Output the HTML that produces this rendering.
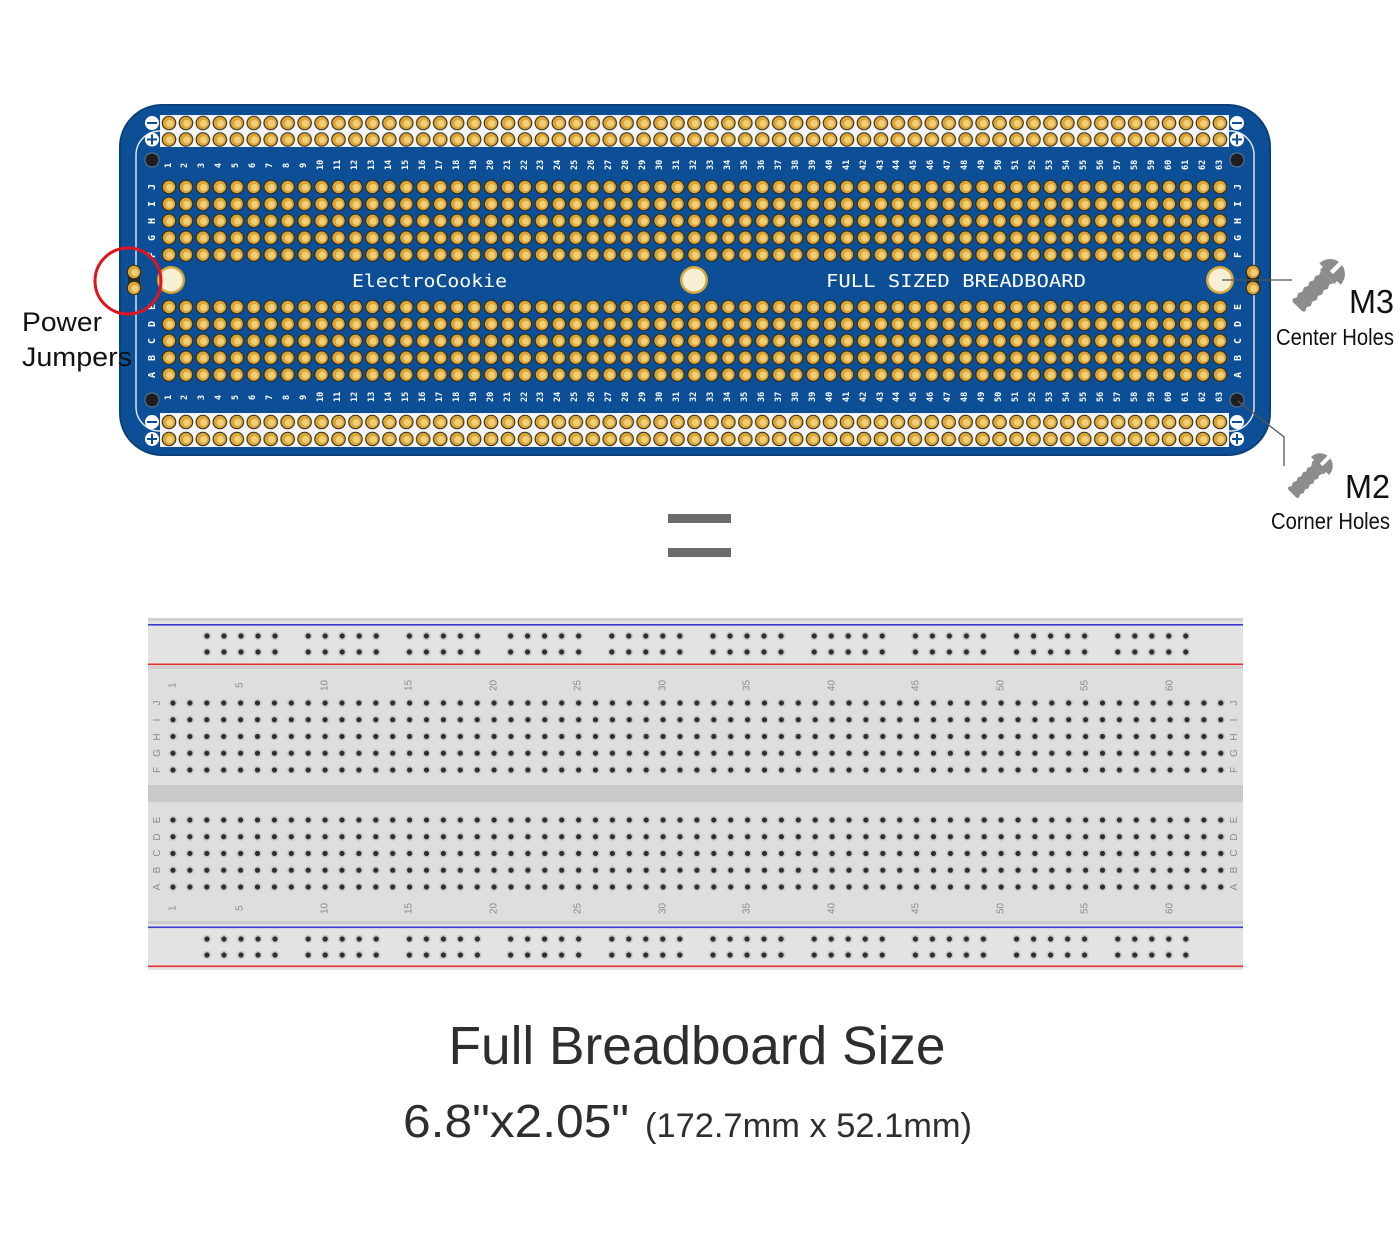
<!DOCTYPE html>
<html><head><meta charset="utf-8">
<style>
html,body{margin:0;padding:0;background:#fff;}
#wrap{position:relative;width:1400px;height:1260px;overflow:hidden;font-family:"Liberation Sans",sans-serif;}
svg{position:absolute;left:0;top:0;}
.nr{position:absolute;display:flex;height:26px;}
.nr span{flex:1;display:flex;align-items:center;justify-content:center;writing-mode:vertical-rl;transform:rotate(180deg);font-size:9px;line-height:1;}
.pcb span{color:#fff;font-weight:bold;font-family:"DejaVu Sans Mono","Liberation Mono",monospace;font-size:8.5px;}
.bb span{color:#8a8a8a;font-size:10px;}
</style></head><body><div id="wrap">
<svg width="1400" height="1260" viewBox="0 0 1400 1260">
<defs>
<g id="p"><circle r="7.3" fill="#2b2a1c"/><circle r="6.2" fill="#dca534"/><circle cx="0.8" cy="0.5" r="3.6" fill="#f1cf78"/></g>
<pattern id="padA" patternUnits="userSpaceOnUse" x="160.525" y="178.55" width="16.95" height="16.9"><use href="#p" x="8.475" y="8.45"/></pattern>
<pattern id="padB" patternUnits="userSpaceOnUse" x="160.525" y="298.55" width="16.95" height="16.9"><use href="#p" x="8.475" y="8.45"/></pattern>
<pattern id="railT" patternUnits="userSpaceOnUse" x="160.525" y="114.75" width="16.95" height="16.5"><use href="#p" x="8.475" y="8.25"/></pattern>
<pattern id="railB" patternUnits="userSpaceOnUse" x="160.525" y="413.5" width="16.95" height="17"><use href="#p" x="8.475" y="8.5"/></pattern>
<g id="h"><circle r="4.2" fill="#c9c9c9"/><circle r="2.6" fill="#2e2e2e"/></g>
<pattern id="bbA" patternUnits="userSpaceOnUse" x="164.55" y="694.6" width="16.9" height="16.75"><use href="#h" x="8.45" y="8.4"/></pattern>
<pattern id="bbB" patternUnits="userSpaceOnUse" x="164.55" y="811.6" width="16.9" height="16.75"><use href="#h" x="8.45" y="8.4"/></pattern>
<g id="grp"><use href="#h" x="8.5" y="7.5"/><use href="#h" x="25.5" y="7.5"/><use href="#h" x="42.5" y="7.5"/><use href="#h" x="59.5" y="7.5"/><use href="#h" x="76.5" y="7.5"/><use href="#h" x="8.5" y="23.5"/><use href="#h" x="25.5" y="23.5"/><use href="#h" x="42.5" y="23.5"/><use href="#h" x="59.5" y="23.5"/><use href="#h" x="76.5" y="23.5"/></g>
<pattern id="rlT" patternUnits="userSpaceOnUse" x="198.5" y="628.5" width="101.2" height="32"><use href="#grp"/></pattern>
<pattern id="rlB" patternUnits="userSpaceOnUse" x="198.5" y="931.5" width="101.2" height="32"><use href="#grp"/></pattern>
<g id="screw" fill="#8c8c8c">
<path d="M0,-15 A15,15 0 0,1 0,15 Z"/>
<rect x="-4" y="-10" width="5" height="20"/>
<polygon points="-4,-9 -8,-7 -12,-9 -16,-7 -20,-9 -24,-7 -28,-9 -32,-7 -36,-9 -40,-7 -44,-9 -46,-7 -46,7 -44,9 -40,7 -36,9 -32,7 -28,9 -24,7 -20,9 -16,7 -12,9 -8,7 -4,9"/>
<rect x="2" y="-2.2" width="14" height="4.4" fill="#fff"/>
</g>
</defs>

<!-- PCB -->
<rect x="120" y="105" width="1150" height="350" rx="42" fill="#0d4f96"/>
<rect x="136" y="131" width="1118" height="300" rx="24" fill="none" stroke="#e8eef6" stroke-width="1.4"/>
<rect x="120" y="105" width="1150" height="350" rx="42" fill="none" stroke="#0a3f7a" stroke-width="2"/>
<rect x="160" y="115" width="1069" height="32" fill="#f4f4f4"/>
<rect x="160" y="413" width="1069" height="34" fill="#f4f4f4"/>
<rect x="160.5" y="114.75" width="1067.9" height="33" fill="url(#railT)"/>
<rect x="160.5" y="413.5" width="1067.9" height="34" fill="url(#railB)"/>
<rect x="160.5" y="178.55" width="1067.9" height="84.5" fill="url(#padA)"/>
<rect x="160.5" y="298.55" width="1067.9" height="84.5" fill="url(#padB)"/>
<!-- rail symbols -->
<g fill="#fff"><circle cx="152" cy="123" r="7"/><circle cx="152" cy="139.5" r="7"/><circle cx="1237" cy="123" r="7"/><circle cx="1237" cy="139.5" r="7"/>
<circle cx="152" cy="422" r="7"/><circle cx="152" cy="439" r="7"/><circle cx="1237" cy="422" r="7"/><circle cx="1237" cy="439" r="7"/></g>
<g stroke="#0d4f96" stroke-width="2"><path d="M147,123h10M1232,123h10M147,139.5h10M152,134.5v10M1232,139.5h10M1237,134.5v10M147,422h10M1232,422h10M147,439h10M152,434v10M1232,439h10M1237,434v10"/></g>
<!-- corner holes -->
<g fill="#1e1e22" stroke="#6a7a8a" stroke-width="1"><circle cx="152" cy="160" r="7"/><circle cx="1237" cy="160" r="7"/><circle cx="152" cy="400" r="7"/><circle cx="1237" cy="400" r="7"/></g>
<!-- center holes -->
<g><circle cx="171" cy="280" r="14" fill="#d9a73a"/><circle cx="171" cy="280" r="11.5" fill="#f7efd4"/>
<circle cx="694" cy="280" r="14" fill="#d9a73a"/><circle cx="694" cy="280" r="11.5" fill="#f7efd4"/>
<circle cx="1220" cy="280" r="14" fill="#d9a73a"/><circle cx="1220" cy="280" r="11.5" fill="#f7efd4"/></g>
<!-- jumpers -->
<g><rect x="128" y="266" width="12" height="26" rx="6" fill="#2b2a1c"/><use href="#p" x="134" y="272"/><use href="#p" x="134" y="288"/>
<rect x="1247" y="266" width="12" height="26" rx="6" fill="#2b2a1c"/><use href="#p" x="1253" y="272"/><use href="#p" x="1253" y="288"/></g>
<text x="352" y="287" fill="#fff" font-family="DejaVu Sans Mono,Liberation Mono,monospace" font-size="18" textLength="155" lengthAdjust="spacingAndGlyphs">ElectroCookie</text>
<text x="826" y="287" fill="#fff" font-family="DejaVu Sans Mono,Liberation Mono,monospace" font-size="18" textLength="260" lengthAdjust="spacingAndGlyphs">FULL SIZED BREADBOARD</text>
<!-- PCB letters -->
<g fill="#fff" font-family="DejaVu Sans Mono,monospace" font-size="10" font-weight="bold" text-anchor="middle">
<text transform="translate(155,187) rotate(-90)">J</text><text transform="translate(155,204) rotate(-90)">I</text><text transform="translate(155,221) rotate(-90)">H</text><text transform="translate(155,238) rotate(-90)">G</text><text transform="translate(155,255) rotate(-90)">F</text>
<text transform="translate(155,307) rotate(-90)">E</text><text transform="translate(155,324) rotate(-90)">D</text><text transform="translate(155,341) rotate(-90)">C</text><text transform="translate(155,358) rotate(-90)">B</text><text transform="translate(155,375) rotate(-90)">A</text>
<text transform="translate(1241,187) rotate(-90)">J</text><text transform="translate(1241,204) rotate(-90)">I</text><text transform="translate(1241,221) rotate(-90)">H</text><text transform="translate(1241,238) rotate(-90)">G</text><text transform="translate(1241,255) rotate(-90)">F</text>
<text transform="translate(1241,307) rotate(-90)">E</text><text transform="translate(1241,324) rotate(-90)">D</text><text transform="translate(1241,341) rotate(-90)">C</text><text transform="translate(1241,358) rotate(-90)">B</text><text transform="translate(1241,375) rotate(-90)">A</text>
</g>
<!-- red circle -->
<circle cx="128" cy="281" r="33" fill="none" stroke="#e0141e" stroke-width="3"/>
<!-- leader lines -->
<path d="M1222,280H1292" stroke="#555" stroke-width="1.3" fill="none"/>
<path d="M1238,401L1284,437V466" stroke="#555" stroke-width="1.3" fill="none"/>
<use href="#screw" transform="translate(1330,274) rotate(-45)"/>
<use href="#screw" transform="translate(1320,466) rotate(-45) scale(0.85)"/>
<g fill="#111">
<text x="1349" y="313" font-size="33" textLength="45" lengthAdjust="spacingAndGlyphs">M3</text>
<text x="1276" y="345" font-size="23" textLength="118" lengthAdjust="spacingAndGlyphs">Center Holes</text>
<text x="1345" y="498" font-size="33" textLength="45" lengthAdjust="spacingAndGlyphs">M2</text>
<text x="1271" y="529" font-size="23" textLength="119" lengthAdjust="spacingAndGlyphs">Corner Holes</text>
<text x="22" y="331" font-size="27" textLength="80" lengthAdjust="spacingAndGlyphs">Power</text>
<text x="22" y="366" font-size="27" textLength="110" lengthAdjust="spacingAndGlyphs">Jumpers</text>
</g>
<!-- equals -->
<rect x="668" y="514" width="63" height="9" fill="#6b6b6b"/><rect x="668" y="548" width="63" height="9" fill="#6b6b6b"/>

<!-- Breadboard -->
<rect x="148" y="618" width="1095" height="352" fill="#e3e3e3"/>
<rect x="148" y="618" width="1095" height="3" fill="#cfcfcf"/>
<rect x="148" y="666" width="1095" height="3" fill="#cdcdcd"/>
<rect x="148" y="669" width="1095" height="252" fill="#dedede"/>
<rect x="148" y="785" width="1095" height="17" fill="#cbc8c8"/>
<rect x="148" y="921" width="1095" height="3" fill="#c9c9c9"/>
<rect x="148" y="624" width="1095" height="1.6" fill="#3a3ad0"/>
<rect x="148" y="663.5" width="1095" height="1.6" fill="#e03030"/>
<rect x="148" y="926.5" width="1095" height="1.6" fill="#3a3ad0"/>
<rect x="148" y="965.5" width="1095" height="1.6" fill="#e03030"/>
<rect x="198.5" y="628.5" width="1000" height="32" fill="url(#rlT)"/>
<rect x="198.5" y="931.5" width="1000" height="32" fill="url(#rlB)"/>
<rect x="164.55" y="694.6" width="1064.7" height="83.75" fill="url(#bbA)"/>
<rect x="164.55" y="811.6" width="1064.7" height="83.75" fill="url(#bbB)"/>
<g fill="#8a8a8a" font-size="10" text-anchor="middle">
<text transform="translate(160,703) rotate(-90)">J</text><text transform="translate(160,720) rotate(-90)">I</text><text transform="translate(160,737) rotate(-90)">H</text><text transform="translate(160,753) rotate(-90)">G</text><text transform="translate(160,770) rotate(-90)">F</text>
<text transform="translate(160,820) rotate(-90)">E</text><text transform="translate(160,837) rotate(-90)">D</text><text transform="translate(160,853) rotate(-90)">C</text><text transform="translate(160,870) rotate(-90)">B</text><text transform="translate(160,887) rotate(-90)">A</text>
<text transform="translate(1237,703) rotate(-90)">J</text><text transform="translate(1237,720) rotate(-90)">I</text><text transform="translate(1237,737) rotate(-90)">H</text><text transform="translate(1237,753) rotate(-90)">G</text><text transform="translate(1237,770) rotate(-90)">F</text>
<text transform="translate(1237,820) rotate(-90)">E</text><text transform="translate(1237,837) rotate(-90)">D</text><text transform="translate(1237,853) rotate(-90)">C</text><text transform="translate(1237,870) rotate(-90)">B</text><text transform="translate(1237,887) rotate(-90)">A</text>
</g>
<!-- bottom titles -->
<text x="697" y="1064" font-size="54" fill="#2e2e2e" text-anchor="middle" textLength="497" lengthAdjust="spacingAndGlyphs">Full Breadboard Size</text>
<text x="403" y="1137" font-size="46" fill="#2e2e2e" textLength="226" lengthAdjust="spacingAndGlyphs">6.8"x2.05"</text>
<text x="645" y="1137" font-size="34" fill="#2e2e2e" textLength="327" lengthAdjust="spacingAndGlyphs">(172.7mm x 52.1mm)</text>
</svg>

<div class="nr pcb" style="left:160.5px;top:152px;width:1067.9px;"><span>1</span><span>2</span><span>3</span><span>4</span><span>5</span><span>6</span><span>7</span><span>8</span><span>9</span><span>10</span><span>11</span><span>12</span><span>13</span><span>14</span><span>15</span><span>16</span><span>17</span><span>18</span><span>19</span><span>20</span><span>21</span><span>22</span><span>23</span><span>24</span><span>25</span><span>26</span><span>27</span><span>28</span><span>29</span><span>30</span><span>31</span><span>32</span><span>33</span><span>34</span><span>35</span><span>36</span><span>37</span><span>38</span><span>39</span><span>40</span><span>41</span><span>42</span><span>43</span><span>44</span><span>45</span><span>46</span><span>47</span><span>48</span><span>49</span><span>50</span><span>51</span><span>52</span><span>53</span><span>54</span><span>55</span><span>56</span><span>57</span><span>58</span><span>59</span><span>60</span><span>61</span><span>62</span><span>63</span></div>
<div class="nr pcb" style="left:160.5px;top:384px;width:1067.9px;"><span>1</span><span>2</span><span>3</span><span>4</span><span>5</span><span>6</span><span>7</span><span>8</span><span>9</span><span>10</span><span>11</span><span>12</span><span>13</span><span>14</span><span>15</span><span>16</span><span>17</span><span>18</span><span>19</span><span>20</span><span>21</span><span>22</span><span>23</span><span>24</span><span>25</span><span>26</span><span>27</span><span>28</span><span>29</span><span>30</span><span>31</span><span>32</span><span>33</span><span>34</span><span>35</span><span>36</span><span>37</span><span>38</span><span>39</span><span>40</span><span>41</span><span>42</span><span>43</span><span>44</span><span>45</span><span>46</span><span>47</span><span>48</span><span>49</span><span>50</span><span>51</span><span>52</span><span>53</span><span>54</span><span>55</span><span>56</span><span>57</span><span>58</span><span>59</span><span>60</span><span>61</span><span>62</span><span>63</span></div>
<div class="nr bb" style="left:164.55px;top:672px;width:1014px;"><span>1</span><span></span><span></span><span></span><span>5</span><span></span><span></span><span></span><span></span><span>10</span><span></span><span></span><span></span><span></span><span>15</span><span></span><span></span><span></span><span></span><span>20</span><span></span><span></span><span></span><span></span><span>25</span><span></span><span></span><span></span><span></span><span>30</span><span></span><span></span><span></span><span></span><span>35</span><span></span><span></span><span></span><span></span><span>40</span><span></span><span></span><span></span><span></span><span>45</span><span></span><span></span><span></span><span></span><span>50</span><span></span><span></span><span></span><span></span><span>55</span><span></span><span></span><span></span><span></span><span>60</span></div>
<div class="nr bb" style="left:164.55px;top:895px;width:1014px;"><span>1</span><span></span><span></span><span></span><span>5</span><span></span><span></span><span></span><span></span><span>10</span><span></span><span></span><span></span><span></span><span>15</span><span></span><span></span><span></span><span></span><span>20</span><span></span><span></span><span></span><span></span><span>25</span><span></span><span></span><span></span><span></span><span>30</span><span></span><span></span><span></span><span></span><span>35</span><span></span><span></span><span></span><span></span><span>40</span><span></span><span></span><span></span><span></span><span>45</span><span></span><span></span><span></span><span></span><span>50</span><span></span><span></span><span></span><span></span><span>55</span><span></span><span></span><span></span><span></span><span>60</span></div>
</div></body></html>
